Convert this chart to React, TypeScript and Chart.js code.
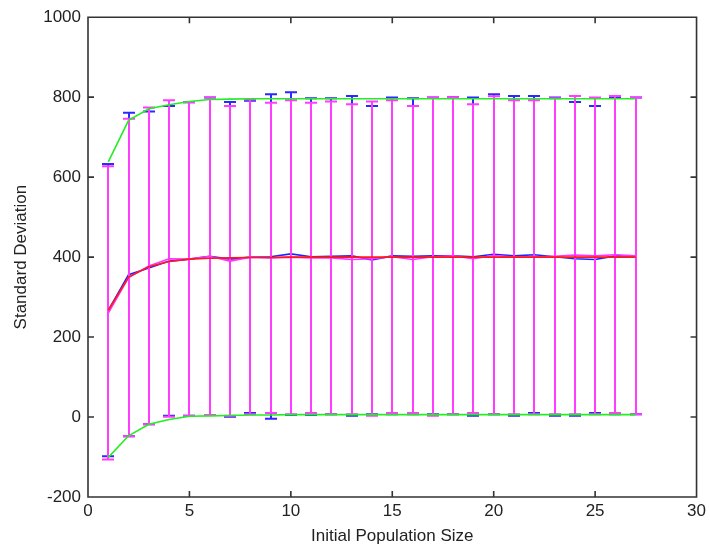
import React, { useEffect, useRef } from "react";
import { Chart, registerables } from "chart.js";
Chart.register(...registerables);

const xValues = [1, 2, 3, 4, 5, 6, 7, 8, 9, 10, 11, 12, 13, 14, 15, 16, 17, 18, 19, 20, 21, 22, 23, 24, 25, 26, 27];

const blueMean = [267, 356, 373, 390, 395, 402, 395, 400, 401, 408, 401, 402, 403, 393, 403, 402, 403, 403, 401, 407, 403, 406, 401, 396, 394, 403, 403];
const blueHigh = [633, 761, 764, 778, 787, 799, 788, 791, 807, 812, 797, 797, 803, 778, 799, 797, 799, 800, 799, 807, 803, 803, 799, 788, 778, 799, 799];
const blueLow = [-98, -48, -18, 3, 3, 5, 1, 10, -4, 5, 5, 7, 3, 7, 7, 7, 7, 7, 3, 7, 3, 10, 3, 3, 10, 7, 7];

const magentaMean = [260, 349, 378, 396, 395, 402, 390, 400, 398, 400, 398, 398, 394, 396, 401, 394, 401, 403, 396, 404, 400, 400, 402, 405, 403, 406, 403];
const magentaHigh = [627, 746, 774, 792, 787, 799, 778, 794, 786, 792, 786, 789, 782, 789, 792, 778, 799, 800, 782, 802, 792, 792, 797, 803, 799, 803, 799];
const magentaLow = [-106, -48, -18, 1, 3, 5, 3, 7, 10, 7, 10, 7, 7, 3, 10, 10, 3, 7, 10, 7, 7, 7, 7, 7, 7, 10, 7];

const redMean = [267, 350, 376, 389, 395, 397, 398, 399, 399, 400, 400, 400, 400, 400, 400, 400, 400, 400, 400, 400, 400, 400, 400, 400, 400, 400, 400];
const greenUpper = [638, 742, 771, 781, 789, 794, 795, 796, 796, 796, 796, 796, 796, 796, 796, 796, 796, 796, 796, 796, 796, 796, 796, 796, 796, 796, 796];
const greenLower = [-101, -47, -18, -6, 2, 3, 4, 5, 5, 6, 6, 6, 6, 6, 6, 6, 6, 6, 6, 6, 6, 6, 6, 6, 6, 6, 6];

const xTicks = [0, 5, 10, 15, 20, 25, 30];
const yTicks = [-200, 0, 200, 400, 600, 800, 1000];

const FONT = '"Liberation Sans", Arial, sans-serif';

const pts = (ys: number[]) => xValues.map((x, i) => ({ x, y: ys[i] }));

const errorBarPlugin = {
  id: "errbars",
  beforeDatasetDraw(chart: any, args: any) {
    const ds = chart.data.datasets[args.index] as any;
    if (!ds.errLow) return;
    const { ctx, scales } = chart;
    const xs = scales.x;
    const ys = scales.y;
    ctx.save();
    ctx.strokeStyle = ds.errColor;
    ctx.lineWidth = 2;
    ctx.beginPath();
    for (let i = 0; i < xValues.length; i++) {
      const px = Math.round(xs.getPixelForValue(xValues[i]));
      const lo = ys.getPixelForValue(ds.errLow[i]);
      const hi = ys.getPixelForValue(ds.errHigh[i]);
      ctx.moveTo(px, lo);
      ctx.lineTo(px, hi);
      ctx.moveTo(px - 6, lo);
      ctx.lineTo(px + 6, lo);
      ctx.moveTo(px - 6, hi);
      ctx.lineTo(px + 6, hi);
    }
    ctx.stroke();
    ctx.restore();
  },
};

const boxPlugin = {
  id: "matlabBox",
  afterDatasetsDraw(chart: any) {
    const { ctx, chartArea, scales } = chart;
    const { left, right, top, bottom } = chartArea;
    ctx.save();
    ctx.strokeStyle = "#333";
    ctx.lineWidth = 1.6;
    ctx.beginPath();
    ctx.rect(left, top, right - left, bottom - top);
    const tl = 6;
    for (const t of xTicks) {
      const px = scales.x.getPixelForValue(t);
      ctx.moveTo(px, bottom);
      ctx.lineTo(px, bottom - tl);
      ctx.moveTo(px, top);
      ctx.lineTo(px, top + tl);
    }
    for (const t of yTicks) {
      const py = scales.y.getPixelForValue(t);
      ctx.moveTo(left, py);
      ctx.lineTo(left + tl, py);
      ctx.moveTo(right, py);
      ctx.lineTo(right - tl, py);
    }
    ctx.stroke();
    ctx.restore();
  },
};

export default function App() {
  const ref = useRef<HTMLCanvasElement | null>(null);
  useEffect(() => {
    if (!ref.current) return;
    const lineDs = (label: string, data: number[], color: string, extra: any = {}) => ({
      label,
      data: pts(data),
      borderColor: color,
      backgroundColor: color,
      borderWidth: 1.6,
      pointRadius: 0,
      tension: 0,
      fill: false,
      ...extra,
    });
    const chart = new Chart(ref.current, {
      type: "line",
      data: {
        datasets: [
          lineDs("Mean", redMean, "#ff1a1a"),
          lineDs("Upper", greenUpper, "#22ee22"),
          lineDs("Lower", greenLower, "#22ee22"),
          lineDs("Series B", magentaMean, "#ff33ff", { errLow: magentaLow, errHigh: magentaHigh, errColor: "#ff3cff" }),
          lineDs("Series A", blueMean, "#2222ff", { errLow: blueLow, errHigh: blueHigh, errColor: "#2a2aff" }),
        ] as any,
      },
      options: {
        responsive: false,
        animation: false,
        parsing: false as any,
        layout: { padding: { top: 16, right: 13, left: 0, bottom: 0 } },
        plugins: { legend: { display: false }, tooltip: { enabled: false } },
        scales: {
          x: {
            type: "linear",
            min: 0,
            max: 30,
            afterFit: (s: any) => {
              s.height = 55;
            },
            afterBuildTicks: (s: any) => {
              s.ticks = xTicks.map((v) => ({ value: v }));
            },
            grid: { display: true, drawOnChartArea: false, drawTicks: false },
            border: { display: false },
            ticks: {
              padding: 4,
              maxRotation: 0,
              color: "#222",
              font: { family: FONT, size: 17 },
              callback: (v: any) => String(v),
            },
            title: {
              display: true,
              text: "Initial Population Size",
              color: "#222",
              font: { family: FONT, size: 17 },
              padding: { top: 0, bottom: 5 },
            },
          },
          y: {
            type: "linear",
            min: -200,
            max: 1000,
            afterFit: (s: any) => {
              s.width = 88;
            },
            afterBuildTicks: (s: any) => {
              s.ticks = yTicks.map((v) => ({ value: v }));
            },
            grid: { display: true, drawOnChartArea: false, drawTicks: false },
            border: { display: false },
            ticks: {
              padding: 7,
              color: "#222",
              font: { family: FONT, size: 17 },
              callback: (v: any) => String(v),
            },
            title: {
              display: true,
              text: "Standard Deviation",
              color: "#222",
              font: { family: FONT, size: 17 },
              padding: { top: 11, bottom: 0 },
            },
          },
        },
      },
      plugins: [errorBarPlugin, boxPlugin],
    });
    return () => chart.destroy();
  }, []);
  return (
    <div style={{ position: "absolute", left: 0, top: 0, width: 710, height: 552, background: "#fff" }}>
      <canvas ref={ref} width={710} height={552} />
    </div>
  );
}
